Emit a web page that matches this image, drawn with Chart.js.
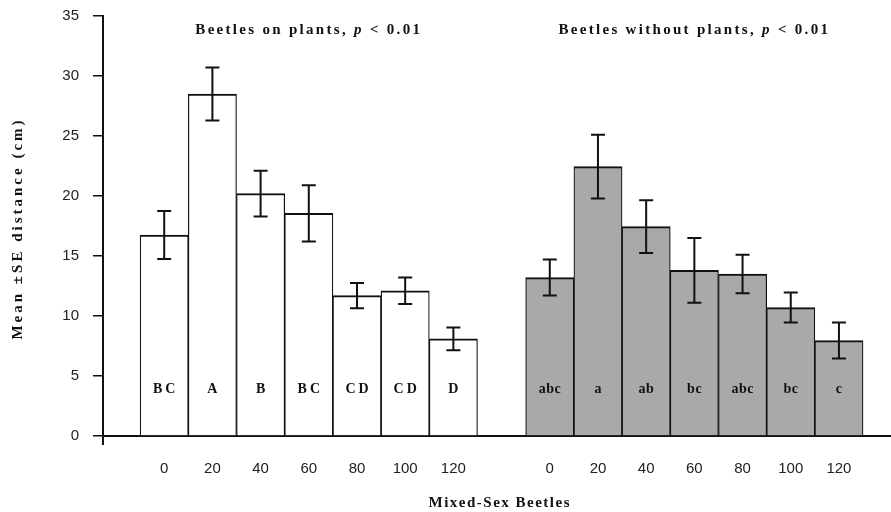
<!DOCTYPE html>
<html>
<head>
<meta charset="utf-8">
<script src="https://cdn.jsdelivr.net/npm/chart.js@4/dist/chart.umd.min.js"></script>
<style>
  body { margin: 0; background: #fff; }
  #wrap { width: 891px; height: 512px; }
</style>
</head>
<body>
<div id="wrap"><canvas id="beetleChart" width="891" height="512"></canvas></div>
<script>
// densities of mixed-sex beetles (x categories)
const densities = ['0', '20', '40', '60', '80', '100', '120'];

// beetles on plants
const onPlantsMean = [16.75, 28.5, 20.2, 18.55, 11.7, 12.1, 8.1];
const onPlantsSE = [2.0, 2.2, 1.9, 2.35, 1.05, 1.1, 0.95];
const onPlantsLetters = ['BC', 'A', 'B', 'BC', 'CD', 'CD', 'D'];

// beetles without plants
const noPlantsMean = [13.2, 22.45, 17.45, 13.8, 13.5, 10.7, 7.95];
const noPlantsSE = [1.5, 2.65, 2.2, 2.7, 1.6, 1.25, 1.5];
const noPlantsLetters = ['abc', 'a', 'ab', 'bc', 'abc', 'bc', 'c'];

const panelTitles = ['Beetles on plants, ', 'Beetles without plants, '];
const yTitle = 'Mean \u00b1SE distance (cm)';
const xTitle = 'Mixed-Sex Beetles';

// slot positions on the x axis: group 1 at 0..6, empty slot 7, group 2 at 8..14
const leftPos = densities.map((d, i) => i);
const rightPos = densities.map((d, i) => i + densities.length + 1);
const allPos = leftPos.concat(rightPos);
const allLabels = densities.concat(densities);

const ink = '#111';
const serif = '"Liberation Serif", "DejaVu Serif", serif';

function textSpaced(ctx, txt, x, y, spacing) {
    ctx.letterSpacing = spacing + 'px';
    ctx.fillText(txt, x + spacing / 2, y);
    ctx.letterSpacing = '0px';
}

const extras = {
    id: 'extras',
    afterDatasetsDraw(chart) {
        const ctx = chart.ctx;
        const y = chart.scales.y;
        const x = chart.scales.x;
        const se = [onPlantsSE, noPlantsSE];
        const means = [onPlantsMean, noPlantsMean];
        const letters = [onPlantsLetters, noPlantsLetters];

        ctx.save();
        // error bars
        ctx.strokeStyle = ink;
        ctx.lineWidth = 2;
        chart.data.datasets.forEach((ds, di) => {
            chart.getDatasetMeta(di).data.forEach((bar, i) => {
                const top = y.getPixelForValue(means[di][i] + se[di][i]);
                const bot = y.getPixelForValue(means[di][i] - se[di][i]);
                ctx.beginPath();
                ctx.moveTo(bar.x, top); ctx.lineTo(bar.x, bot);
                ctx.moveTo(bar.x - 7, top); ctx.lineTo(bar.x + 7, top);
                ctx.moveTo(bar.x - 7, bot); ctx.lineTo(bar.x + 7, bot);
                ctx.stroke();
            });
        });

        // significance letters inside bars
        ctx.fillStyle = ink;
        ctx.textAlign = 'center';
        ctx.textBaseline = 'middle';
        ctx.font = 'bold 14px ' + serif;
        chart.data.datasets.forEach((ds, di) => {
            chart.getDatasetMeta(di).data.forEach((bar, i) => {
                textSpaced(ctx, letters[di][i], bar.x, y.getPixelForValue(3.9), di === 0 ? 3 : 0.5);
            });
        });

        // panel titles
        const centers = [x.getPixelForValue(3), x.getPixelForValue(11)];
        panelTitles.forEach((t, k) => {
            const parts = [[t, 'bold 15px '], ['p', 'italic bold 15px '], [' < 0.01', 'bold 15px ']];
            ctx.letterSpacing = '2.3px';
            let w = 0;
            parts.forEach(p => { ctx.font = p[1] + serif; w += ctx.measureText(p[0]).width; });
            let cx = centers[k] - w / 2;
            ctx.textAlign = 'left';
            parts.forEach(p => {
                ctx.font = p[1] + serif;
                ctx.fillText(p[0], cx, 30);
                cx += ctx.measureText(p[0]).width;
            });
            ctx.letterSpacing = '0px';
        });

        // axis titles
        ctx.textAlign = 'center';
        ctx.font = 'bold 15px ' + serif;
        textSpaced(ctx, xTitle, 499, 503, 1.5);
        ctx.translate(18, 230);
        ctx.rotate(-Math.PI / 2);
        textSpaced(ctx, yTitle, 0, 0, 3);
        ctx.restore();

        // small overshoot of the y axis below zero
        ctx.save();
        ctx.strokeStyle = ink;
        ctx.lineWidth = 2;
        ctx.beginPath();
        ctx.moveTo(chart.chartArea.left, chart.chartArea.bottom);
        ctx.lineTo(chart.chartArea.left, chart.chartArea.bottom + 9);
        ctx.stroke();
        ctx.restore();
    }
};

const ctx = document.getElementById('beetleChart').getContext('2d');

new Chart(ctx, {
    type: 'bar',
    data: {
        datasets: [{
            label: 'Beetles on plants',
            data: onPlantsMean.map((v, i) => ({ x: leftPos[i], y: v })),
            backgroundColor: '#ffffff',
            borderColor: ink,
            borderWidth: { top: 2, left: 1.2, right: 1.2 },
            grouped: false,
            barPercentage: 1,
            categoryPercentage: 1
        }, {
            label: 'Beetles without plants',
            data: noPlantsMean.map((v, i) => ({ x: rightPos[i], y: v })),
            backgroundColor: '#a9a9a9',
            borderColor: ink,
            borderWidth: { top: 2, left: 1.2, right: 1.2 },
            grouped: false,
            barPercentage: 1,
            categoryPercentage: 1
        }]
    },
    options: {
        responsive: false,
        animation: false,
        devicePixelRatio: 1,
        layout: { padding: { top: 16, right: 0, left: 0, bottom: 0 } },
        plugins: {
            legend: { display: false },
            tooltip: { enabled: false }
        },
        scales: {
            x: {
                type: 'linear',
                offset: false,
                min: -1.27,
                max: 15.08,
                afterBuildTicks: s => { s.ticks = allPos.map(v => ({ value: v })); },
                afterFit: s => { s.height = 76; s.paddingLeft = 0; s.paddingRight = 0; },
                ticks: {
                    autoSkip: false,
                    maxRotation: 0,
                    padding: 24,
                    color: '#222',
                    font: { family: '"Liberation Sans", Arial, sans-serif', size: 15 },
                    callback: (v, i) => allLabels[i]
                },
                grid: { display: false, offset: false, drawTicks: false, tickLength: 0 },
                border: { color: ink, width: 2 }
            },
            y: {
                min: 0,
                max: 35,
                afterFit: s => { s.width = 103; s.paddingTop = 0; s.paddingBottom = 0; },
                ticks: {
                    stepSize: 5,
                    padding: 14,
                    color: '#222',
                    font: { family: '"Liberation Sans", Arial, sans-serif', size: 15 }
                },
                grid: { drawOnChartArea: false, tickLength: 10, color: ink, lineWidth: 1.5 },
                border: { color: ink, width: 2 }
            }
        }
    },
    plugins: [extras]
});
</script>
</body>
</html>
